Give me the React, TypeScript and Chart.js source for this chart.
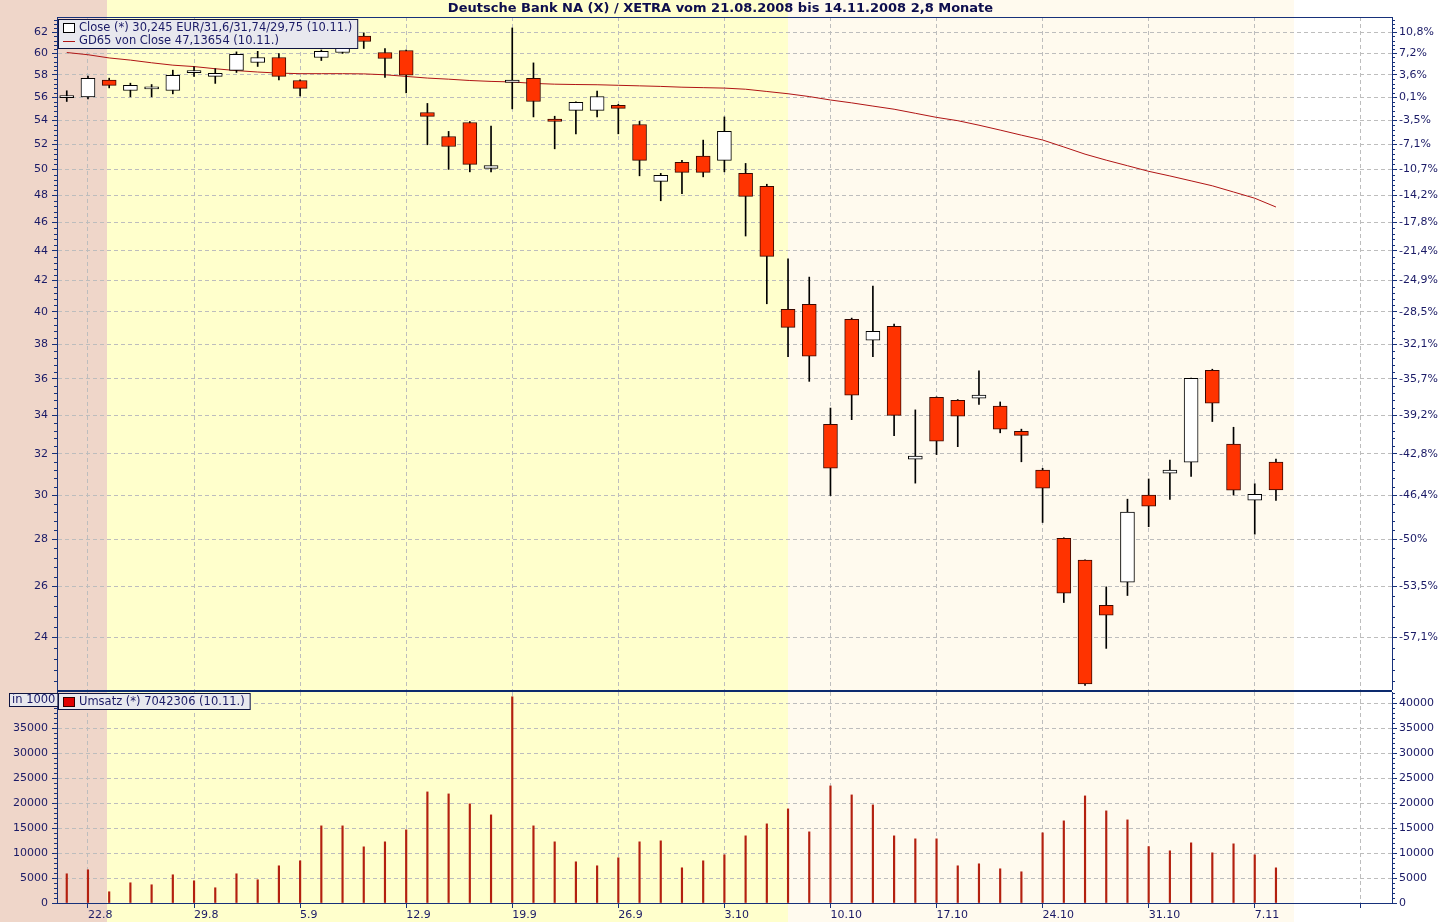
import React, { useEffect, useRef } from 'react';
import { Chart, registerables } from 'chart.js';

Chart.register(...registerables);

// ---------------- data ----------------
const TITLE = 'Deutsche Bank NA (X) / XETRA vom 21.08.2008 bis 14.11.2008 2,8 Monate';

const dates = ['21.8','22.8','25.8','26.8','27.8','28.8','29.8','1.9','2.9','3.9','4.9','5.9','8.9','9.9','10.9','11.9','12.9','15.9','16.9','17.9','18.9','19.9','22.9','23.9','24.9','25.9','26.9','29.9','30.9','1.10','2.10','3.10','6.10','7.10','8.10','9.10','10.10','13.10','14.10','15.10','16.10','17.10','20.10','21.10','22.10','23.10','24.10','27.10','28.10','29.10','30.10','31.10','3.11','4.11','5.11','6.11','7.11','10.11'];

const opens = [55.96,56.03,57.51,56.59,56.73,56.59,58.2,57.85,58.4,59.13,59.59,57.48,59.59,60.06,61.62,60.06,60.25,54.67,52.65,53.82,50.08,57.31,57.67,54.1,54.85,54.85,55.28,53.65,49.07,50.55,51.05,50.71,49.69,48.69,40.15,40.46,33.52,39.52,38.25,39.09,31.74,34.97,34.81,34.92,34.49,33.16,31.2,28.04,27.09,25.24,26.17,30.0,31.05,31.59,36.49,32.5,29.76,31.6];
const highs = [56.56,57.87,57.69,57.24,57.12,58.42,58.72,58.56,60.12,60.17,59.97,57.55,60.3,60.7,61.94,60.44,60.3,55.45,53.07,53.9,53.51,62.42,59.09,54.35,55.6,56.53,55.37,53.91,49.69,50.71,52.35,54.29,50.47,48.85,43.45,42.23,34.39,39.6,41.64,39.23,34.29,35.0,34.85,36.45,34.72,33.27,31.29,28.06,27.1,25.98,29.81,30.77,31.7,36.05,36.55,33.37,30.54,31.74];
const lows = [55.62,55.85,56.82,56.03,56.03,56.29,57.85,57.22,58.21,58.76,57.54,56.11,59.31,59.97,60.44,57.76,56.38,51.97,50.0,49.81,49.81,54.98,54.29,51.64,52.87,54.29,52.87,49.5,47.6,48.13,49.42,49.81,45.04,40.5,37.27,35.86,29.98,33.77,37.27,32.93,30.57,31.97,32.37,34.58,33.08,31.61,28.74,25.35,22.26,23.59,25.63,28.55,29.8,30.89,33.67,30.0,28.22,29.75];
const closes = [55.96,57.67,57.04,57.04,56.75,57.94,58.24,58.14,59.9,59.59,57.85,56.77,60.17,60.5,61.11,59.5,57.96,54.33,51.83,50.39,50.31,57.51,55.62,53.91,55.54,56.06,55.02,50.71,49.53,49.77,49.77,53.07,47.93,43.63,39.03,37.3,31.29,35.09,38.79,34.0,31.89,32.65,33.95,35.09,33.27,32.95,30.33,25.72,22.31,24.85,29.21,29.49,31.2,36.03,34.65,30.24,30.04,30.245];

const gd65 = [60.06,59.85,59.55,59.35,59.1,58.88,58.75,58.55,58.38,58.25,58.15,58.1,58.1,58.1,58.08,58.0,57.85,57.7,57.6,57.48,57.4,57.35,57.22,57.15,57.12,57.1,57.05,57.0,56.95,56.88,56.84,56.8,56.7,56.5,56.3,56.05,55.75,55.5,55.22,54.95,54.6,54.25,53.97,53.59,53.18,52.76,52.36,51.79,51.21,50.73,50.29,49.85,49.49,49.11,48.73,48.26,47.79,47.13654];

// Umsatz in 1000
const volumes = [5850,6650,2250,4050,3650,5650,4450,3050,5850,4650,7450,8450,15450,15450,11250,12250,14650,22250,21850,19850,17650,41300,15450,12250,8250,7450,9050,12250,12450,7050,8450,9650,13450,15850,18850,14250,23450,21650,19650,13450,12850,12850,7450,7850,6850,6250,14050,16450,21450,18450,16650,11300,10450,12050,10050,11850,9650,7042.306];

const priceTicks = [24,26,28,30,32,34,36,38,40,42,44,46,48,50,52,54,56,58,60,62];
const volumeTicks = [0,5000,10000,15000,20000,25000,30000,35000,40000];
const weekTickIdx = [1,6,11,16,21,26,31,36,41,46,51,56,61];
const weekTickLabels = ['22.8','29.8','5.9','12.9','19.9','26.9','3.10','10.10','17.10','24.10','31.10','7.11',''];

const bandEdges = [1.9, 34.0, 57.83];
const bandColors = ['#efd6c9', '#ffffcc', '#fffaee', '#ffffff'];

// ---------------- style ----------------
const FONT = '"DejaVu Sans", Verdana, sans-serif';
const NAVY = '#1a1a66';
const AXIS = '#17317a';
const GRID = '#bdbdbd';
const X_MIN = -0.46;
const X_MAX = 62.47;
const P_MIN = 22.1;
const P_MAX = 63.5;
const V_MAX = 42260;

Chart.defaults.font.family = FONT;

const idx = dates.map((_, i) => i);
const last = dates.length - 1;
const de = (v: number) => String(v).replace('.', ',');

function pctLabel(v: number) {
  const p = (v / closes[0] - 1) * 100;
  let s = p.toFixed(1);
  if (s.endsWith('.0')) s = s.slice(0, -2);
  if (s === '-0') s = '0';
  return s.replace('.', ',') + '%';
}

const noPad = (s: any) => {
  s.paddingTop = 0;
  s.paddingBottom = 0;
  s.paddingLeft = 0;
  s.paddingRight = 0;
};

const bandPlugin = {
  id: 'bands',
  beforeDraw(chart: any) {
    const { ctx, width, height } = chart;
    const xs = chart.scales.x;
    ctx.save();
    let prev = 0;
    for (let i = 0; i < bandColors.length; i++) {
      const next = i < bandEdges.length ? Math.round(xs.getPixelForValue(bandEdges[i])) : width;
      ctx.fillStyle = bandColors[i];
      ctx.fillRect(prev, 0, next - prev, height);
      prev = next;
    }
    ctx.restore();
  },
};

function drawMinorTicks(chart: any) {
  const ctx = chart.ctx;
  ctx.save();
  ctx.strokeStyle = AXIS;
  ctx.lineWidth = 1;
  ctx.beginPath();
  for (const id of ['y', 'y2']) {
    const s = chart.scales[id];
    if (!s) continue;
    const vals = s.ticks.map((t: any) => t.value);
    const step = (vals[1] - vals[0]) / 5;
    const left = s.position === 'left';
    const x0 = left ? chart.chartArea.left : chart.chartArea.right;
    const n = Math.round((vals[vals.length - 1] - vals[0]) / step);
    for (let k = -5; k <= n + 5; k++) {
      if (k % 5 === 0) continue;
      const v = vals[0] + k * step;
      if (v < s.min || v > s.max) continue;
      const y = Math.round(s.getPixelForValue(v)) + 0.5;
      ctx.moveTo(x0, y);
      ctx.lineTo(left ? x0 - 3 : x0 + 3, y);
    }
  }
  ctx.stroke();
  ctx.restore();
}

function legendBox(ctx: CanvasRenderingContext2D, x: number, y: number, w: number, h: number) {
  ctx.fillStyle = '#e8e8ee';
  ctx.fillRect(x, y, w, h);
  ctx.strokeStyle = '#0e1440';
  ctx.lineWidth = 1;
  ctx.strokeRect(x + 0.5, y + 0.5, w - 1, h - 1);
}

const overlayA = {
  id: 'overlayA',
  afterDraw(chart: any) {
    const { ctx, chartArea } = chart;
    drawMinorTicks(chart);
    ctx.save();
    // top frame
    ctx.fillStyle = AXIS;
    ctx.fillRect(chartArea.left, chartArea.top, chartArea.right - chartArea.left, 1);
    // legend
    ctx.font = '11.5px ' + FONT;
    const l1 = `Close (*) ${de(closes[last])} EUR/${de(opens[last])}/${de(highs[last])}/${de(lows[last])} (${dates[last]}.)`;
    const l2 = `GD65 von Close ${de(gd65[last])} (${dates[last]}.)`;
    const tw = Math.max(ctx.measureText(l1).width, ctx.measureText(l2).width);
    const bx = chartArea.left + 1;
    const by = chartArea.top + 2;
    legendBox(ctx, bx, by, tw + 27, 30);
    ctx.fillStyle = '#ffffff';
    ctx.fillRect(bx + 5, by + 4, 11, 9);
    ctx.strokeStyle = '#000000';
    ctx.strokeRect(bx + 5.5, by + 4.5, 11, 9);
    ctx.strokeStyle = '#b01515';
    ctx.beginPath();
    ctx.moveTo(bx + 5, by + 22.5);
    ctx.lineTo(bx + 17, by + 22.5);
    ctx.stroke();
    ctx.fillStyle = NAVY;
    ctx.textBaseline = 'middle';
    ctx.textAlign = 'left';
    ctx.fillText(l1, bx + 21, by + 9);
    ctx.fillText(l2, bx + 21, by + 22.5);
    ctx.restore();
  },
};

const overlayB = {
  id: 'overlayB',
  afterDraw(chart: any) {
    const { ctx, chartArea } = chart;
    drawMinorTicks(chart);
    ctx.save();
    // separator between panels
    ctx.fillStyle = '#0c2a6e';
    ctx.fillRect(chartArea.left, 0, chartArea.right - chartArea.left, 2);
    ctx.font = '11.5px ' + FONT;
    ctx.textBaseline = 'middle';
    ctx.textAlign = 'left';
    // "in 1000" box
    const unit = 'in 1000';
    const uw = ctx.measureText(unit).width;
    legendBox(ctx, 9, 3, uw + 6, 14);
    ctx.fillStyle = NAVY;
    ctx.fillText(unit, 12, 10.5);
    // volume legend
    const lv = `Umsatz (*) ${Math.round(volumes[last] * 1000)} (${dates[last]}.)`;
    const tw = ctx.measureText(lv).width;
    const bx = chartArea.left + 1;
    const by = 3;
    legendBox(ctx, bx, by, tw + 27, 17);
    ctx.fillStyle = '#e00000';
    ctx.fillRect(bx + 5, by + 4.5, 11, 9);
    ctx.strokeStyle = '#300000';
    ctx.strokeRect(bx + 5.5, by + 4.5, 11, 9);
    ctx.fillStyle = NAVY;
    ctx.fillText(lv, bx + 21, by + 9);
    ctx.restore();
  },
};

const weeklyTicks = (s: any) => {
  s.ticks = weekTickIdx.map((v) => ({ value: v }));
};

function makeTop(canvas: HTMLCanvasElement) {
  return new Chart(canvas, {
    type: 'bar',
    data: {
      datasets: [
        {
          type: 'line',
          label: 'GD65',
          data: idx.map((i) => ({ x: i, y: gd65[i] })),
          borderColor: '#b01515',
          borderWidth: 1,
          pointRadius: 0,
          tension: 0,
          order: 3,
        } as any,
        {
          type: 'bar',
          label: 'wick',
          data: idx.map((i) => ({ x: i, y: [lows[i], highs[i]] })),
          backgroundColor: '#000000',
          barThickness: 1,
          grouped: false,
          order: 2,
        },
        {
          type: 'bar',
          label: 'Close',
          data: idx.map((i) => ({ x: i, y: [opens[i], closes[i]] })),
          backgroundColor: idx.map((i) => (closes[i] >= opens[i] ? '#ffffff' : '#ff3300')),
          borderColor: idx.map((i) => (closes[i] >= opens[i] ? '#000000' : '#3a0800')),
          borderWidth: 1,
          borderSkipped: false,
          barThickness: 14,
          minBarLength: 2,
          grouped: false,
          order: 1,
        },
      ],
    },
    options: {
      responsive: false,
      animation: false,
      events: [],
      layout: { padding: 0 },
      plugins: {
        legend: { display: false },
        tooltip: { enabled: false },
        title: {
          display: true,
          text: TITLE,
          color: '#0d0d4d',
          font: { family: FONT, size: 13, weight: 'bold', lineHeight: 1.2 },
          padding: { top: 0.7, bottom: 0.7 },
        },
      },
      scales: {
        x: {
          type: 'linear',
          min: X_MIN,
          max: X_MAX,
          bounds: 'data',
          offset: false,
          afterBuildTicks: weeklyTicks,
          afterFit: (s: any) => { s.height = 0; noPad(s); },
          ticks: { display: false },
          grid: { color: GRID, drawTicks: false, offset: false },
          border: { display: false, dash: [4, 3] },
        },
        y: {
          type: 'logarithmic',
          position: 'left',
          min: P_MIN,
          max: P_MAX,
          bounds: 'data',
          afterBuildTicks: (s: any) => { s.ticks = priceTicks.map((v) => ({ value: v })); },
          afterFit: (s: any) => { s.width = 57; noPad(s); },
          ticks: { color: NAVY, font: { size: 11 }, padding: 4, autoSkip: false, callback: (v: any) => String(v) },
          grid: { color: GRID, tickColor: AXIS, tickLength: 5 },
          border: { display: true, color: AXIS, dash: [4, 3] },
        },
        y2: {
          type: 'logarithmic',
          position: 'right',
          min: P_MIN,
          max: P_MAX,
          bounds: 'data',
          afterBuildTicks: (s: any) => { s.ticks = priceTicks.map((v) => ({ value: v })); },
          afterFit: (s: any) => { s.width = 49; noPad(s); },
          ticks: { color: NAVY, font: { size: 11 }, padding: 2, autoSkip: false, callback: (v: any) => pctLabel(Number(v)) },
          grid: { drawOnChartArea: false, tickColor: AXIS, tickLength: 5 },
          border: { display: true, color: AXIS },
        },
      },
    } as any,
    plugins: [bandPlugin, overlayA],
  });
}

function makeBottom(canvas: HTMLCanvasElement) {
  return new Chart(canvas, {
    type: 'bar',
    data: {
      datasets: [
        {
          label: 'Umsatz',
          data: idx.map((i) => ({ x: i, y: volumes[i] })),
          backgroundColor: '#b3200f',
          barThickness: 1.5,
          grouped: false,
          borderWidth: 0,
        },
      ],
    },
    options: {
      responsive: false,
      animation: false,
      events: [],
      layout: { padding: { top: 2 } },
      plugins: { legend: { display: false }, tooltip: { enabled: false } },
      scales: {
        x: {
          type: 'linear',
          min: X_MIN,
          max: X_MAX,
          bounds: 'data',
          offset: false,
          afterBuildTicks: weeklyTicks,
          afterFit: (s: any) => { s.height = 19; noPad(s); },
          ticks: {
            color: NAVY,
            font: { size: 11 },
            align: 'start',
            padding: 1,
            maxRotation: 0,
            autoSkip: false,
            callback: (_v: any, i: number) => weekTickLabels[i] ?? '',
          },
          grid: { color: GRID, tickColor: AXIS, tickLength: 5, offset: false },
          border: { display: true, color: AXIS, dash: [4, 3] },
        },
        y: {
          type: 'linear',
          position: 'left',
          min: 0,
          max: V_MAX,
          bounds: 'data',
          afterBuildTicks: (s: any) => { s.ticks = volumeTicks.map((v) => ({ value: v })); },
          afterFit: (s: any) => { s.width = 57; noPad(s); },
          ticks: { color: NAVY, font: { size: 11 }, padding: 4, autoSkip: false, callback: (v: any) => (Number(v) > 35000 ? '' : String(v)) },
          grid: { color: GRID, tickColor: AXIS, tickLength: 5 },
          border: { display: true, color: AXIS, dash: [4, 3] },
        },
        y2: {
          type: 'linear',
          position: 'right',
          min: 0,
          max: V_MAX,
          bounds: 'data',
          afterBuildTicks: (s: any) => { s.ticks = volumeTicks.map((v) => ({ value: v })); },
          afterFit: (s: any) => { s.width = 49; noPad(s); },
          ticks: { color: NAVY, font: { size: 11 }, padding: 2, autoSkip: false, callback: (v: any) => String(v) },
          grid: { drawOnChartArea: false, tickColor: AXIS, tickLength: 5 },
          border: { display: true, color: AXIS },
        },
      },
    } as any,
    plugins: [bandPlugin, overlayB],
  });
}

export default function App() {
  const refA = useRef<HTMLCanvasElement>(null);
  const refB = useRef<HTMLCanvasElement>(null);

  useEffect(() => {
    if (!refA.current || !refB.current) return;
    const a = makeTop(refA.current);
    const b = makeBottom(refB.current);
    return () => {
      a.destroy();
      b.destroy();
    };
  }, []);

  return (
    <div style={{ position: 'fixed', left: 0, top: 0, width: 1441, height: 922, background: '#ffffff', overflow: 'hidden' }}>
      <canvas ref={refA} width={1441} height={690} style={{ position: 'absolute', left: 0, top: 0, width: 1441, height: 690 }} />
      <canvas ref={refB} width={1441} height={232} style={{ position: 'absolute', left: 0, top: 690, width: 1441, height: 232 }} />
    </div>
  );
}
